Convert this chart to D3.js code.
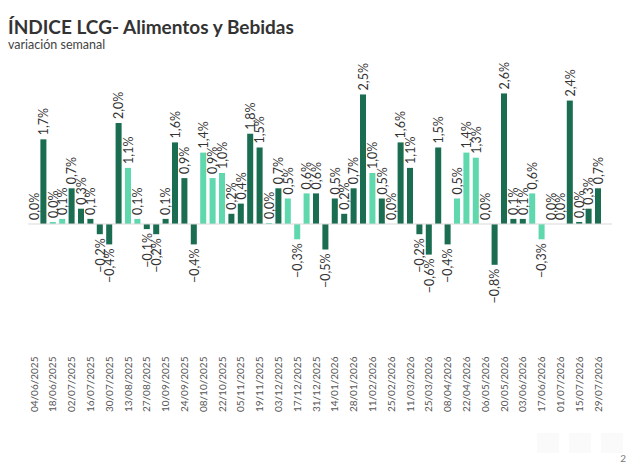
<!DOCTYPE html>
<meta charset="utf-8">
<script src="https://d3js.org/d3.v7.min.js"></script>
<style>
  body { margin: 0; background: #fff; }
  text { font-family: Lato, "Open Sans", sans-serif; }
</style>
<div id="chart"></div>
<script>

// weekly dates (every bar)
var dates = [
  "04/06/2025","11/06/2025","18/06/2025","25/06/2025","02/07/2025","09/07/2025","16/07/2025","23/07/2025",
  "30/07/2025","06/08/2025","13/08/2025","20/08/2025","27/08/2025","03/09/2025","10/09/2025","17/09/2025",
  "24/09/2025","01/10/2025","08/10/2025","15/10/2025","22/10/2025","29/10/2025","05/11/2025","12/11/2025",
  "19/11/2025","26/11/2025","03/12/2025","10/12/2025","17/12/2025","24/12/2025","31/12/2025",
  "07/01/2026","14/01/2026","21/01/2026","28/01/2026","04/02/2026","11/02/2026","18/02/2026","25/02/2026",
  "04/03/2026","11/03/2026","18/03/2026","25/03/2026","01/04/2026","08/04/2026","15/04/2026","22/04/2026",
  "29/04/2026","06/05/2026","13/05/2026","20/05/2026","27/05/2026","03/06/2026","10/06/2026","17/06/2026",
  "24/06/2026","01/07/2026","08/07/2026","15/07/2026","22/07/2026","29/07/2026"
];

// weekly variation (%)
var values = [
  0.0, 1.66, 0.04, 0.1, 0.7, 0.3, 0.1, -0.2, -0.4, 1.98, 1.1, 0.1, -0.1, -0.2, 0.1, 1.6,
  0.9, -0.4, 1.4, 0.9, 1.0, 0.2, 0.4, 1.77, 1.5, 0.02, 0.7, 0.5, -0.3, 0.6, 0.6,
  -0.5, 0.5, 0.2, 0.7, 2.54, 1.0, 0.5, 0.0, 1.6, 1.1, -0.2, -0.6, 1.5, -0.4, 0.5,
  1.4, 1.3, 0.0, -0.8, 2.56, 0.1, 0.1, 0.6, -0.3, 0.0, 0.0, 2.42, 0.04, 0.3, 0.7
];

// bar shade: 1 = dark, 0 = light
var shade = [
  1, 1, 0, 0, 1, 1, 1, 1, 1, 1, 0, 0, 1, 1, 1, 1,
  1, 1, 0, 0, 0, 1, 1, 1, 1, 0, 1, 0, 0, 0, 1,
  1, 1, 1, 1, 1, 0, 1, 0, 1, 1, 1, 1, 1, 1, 0,
  0, 0, 0, 1, 1, 1, 1, 0, 0, 0, 0, 1, 1, 1, 1
];

var tickLabels = dates.filter(function(d, i) { return i % 2 == 0; });

var W = 631, H = 467;
var dark = "#1b6d51", light = "#5fd8ae";

var svg = d3.select("#chart").append("svg")
  .attr("width", W).attr("height", H);

var data = dates.map(function(d, i) { return {date: d, v: values[i], s: shade[i]}; });

var x = d3.scaleBand()
  .domain(dates)
  .range([29.3, 602.7])
  .paddingInner(0.36)
  .paddingOuter(0.18);

var y = d3.scaleLinear()
  .domain([-1, 3])
  .range([275, 71]);

// title
svg.append("text")
  .attr("x", 8).attr("y", 34)
  .style("font-size", "19px").style("font-weight", "bold")
  .attr("fill", "#333")
  .text("ÍNDICE LCG- Alimentos y Bebidas");

svg.append("text")
  .attr("x", 8).attr("y", 49)
  .style("font-size", "12.5px")
  .attr("fill", "#444")
  .text("variación semanal");

// bars
svg.append("g")
  .selectAll("rect")
  .data(data)
  .enter()
  .append("rect")
    .attr("x", function(d) { return x(d.date); })
    .attr("width", x.bandwidth())
    .attr("y", function(d) { return y(Math.max(0, d.v)); })
    .attr("height", function(d) { return Math.abs(y(d.v) - y(0)); })
    .attr("fill", function(d) { return d.s ? dark : light; });

// zero line
svg.append("line")
  .attr("x1", x.range()[0] - 1)
  .attr("x2", x.range()[1] + x.step())
  .attr("y1", y(0)).attr("y2", y(0))
  .attr("stroke", "#d9d9d9")
  .attr("stroke-width", 1);

// value labels
var fmt = d3.format(".1f");
svg.append("g")
  .selectAll("text")
  .data(data)
  .enter()
  .append("text")
    .attr("transform", function(d) {
      var cx = x(d.date) + x.bandwidth() / 2;
      var yy = d.v < 0 ? y(d.v) + 4 : y(d.v) - 4;
      return "translate(" + cx + "," + yy + ") rotate(-90)";
    })
    .attr("dy", "0.38em")
    .attr("text-anchor", function(d) { return d.v < 0 ? "end" : "start"; })
    .style("font-size", "12.5px")
    .attr("fill", "#333")
    .text(function(d) { return fmt(d.v).replace(".", ",") + "%"; });

// date labels
svg.append("g")
  .selectAll("text")
  .data(tickLabels)
  .enter()
  .append("text")
    .attr("transform", function(d) {
      return "translate(" + (x(d) + x.bandwidth() / 2) + ",412) rotate(-90)";
    })
    .attr("dy", "0.35em")
    .attr("text-anchor", "start")
    .style("font-size", "10px")
    .attr("fill", "#555")
    .text(function(d) { return d; });

// faint footer icons + page number
svg.append("g")
  .selectAll("rect")
  .data([537, 569, 601])
  .enter()
  .append("rect")
    .attr("x", function(d) { return d; }).attr("y", 433)
    .attr("width", 22).attr("height", 20)
    .attr("fill", "#fafafa");

svg.append("text")
  .attr("x", 626).attr("y", 462)
  .attr("text-anchor", "end")
  .style("font-size", "10px")
  .attr("fill", "#777")
  .text("2");

</script>
